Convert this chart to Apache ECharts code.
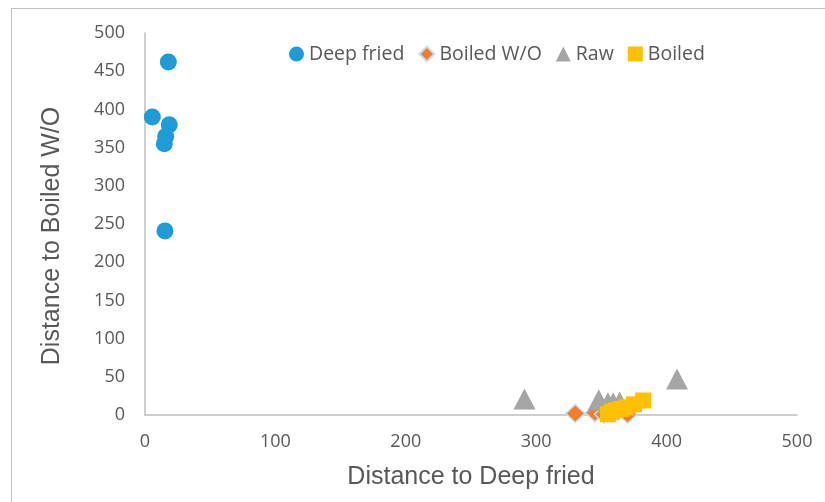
<!DOCTYPE html>
<html><head><meta charset="utf-8">
<script src="https://cdn.jsdelivr.net/npm/echarts@6/dist/echarts.min.js"></script>
<style>html,body{margin:0;padding:0;background:#fff}#c{width:825px;height:502px}</style>
</head><body><div id="c"></div>
<script>
var deepFried = [[17.9,462],[5.6,390],[18.6,380],[15.9,365],[14.8,355],[15.3,241]];
var boiledWO = [[330,2],[345,3],[352,1],[370,1],[358,2]];
var raw = [[291,21],[348,20],[355,16],[359,16],[364,17],[408,47]];
var boiled = [[355,1],[358,4],[361,6],[365,8],[369,10],[375,14],[382,19]];
var seriesNames = ['Deep fried','Boiled W/O','Raw','Boiled'];
var xTicks = {min:0,max:500,interval:100};
var yTicks = {min:0,max:500,interval:50};

var chart = echarts.init(document.getElementById('c'));
var font = 'Open Sans';
var titleFont = 'Liberation Sans';
chart.setOption({
  animation:false,
  graphic:[{type:'rect',shape:{x:11.5,y:8.5,width:830,height:510},style:{fill:'none',stroke:'#bfbfbf',lineWidth:1}}],
  legend:{top:39,left:284,itemGap:14,itemWidth:15,itemHeight:15,
    textStyle:{fontFamily:font,fontSize:19.5,color:'#595959'},
    data:seriesNames},
  grid:{left:145,right:28,top:33,bottom:87},
  xAxis:{type:'value',min:xTicks.min,max:xTicks.max,interval:xTicks.interval,
    name:'Distance to Deep fried',nameLocation:'middle',nameGap:50,
    nameTextStyle:{fontFamily:titleFont,fontSize:25,color:'#595959'},
    axisLine:{show:true,lineStyle:{color:'#bfbfbf',width:1.5}},axisTick:{show:false},
    splitLine:{show:false},
    axisLabel:{fontFamily:font,fontSize:18,color:'#595959',margin:18}},
  yAxis:{type:'value',min:yTicks.min,max:yTicks.max,interval:yTicks.interval,
    name:'Distance to Boiled W/O',nameLocation:'middle',nameGap:80,
    nameTextStyle:{fontFamily:titleFont,fontSize:25,color:'#595959',padding:[0,24,0,0]},
    axisLine:{show:true,lineStyle:{color:'#bfbfbf',width:1.5}},axisTick:{show:false},
    splitLine:{show:false},
    axisLabel:{fontFamily:font,fontSize:18,color:'#595959',margin:20}},
  series:[
    {name:seriesNames[0],type:'scatter',data:deepFried,symbol:'circle',symbolSize:17,itemStyle:{color:'#1f9bd7',opacity:1}},
    {name:seriesNames[1],type:'scatter',data:boiledWO,symbol:'diamond',symbolSize:[19,18],itemStyle:{color:'#f47d2a',borderColor:'#c5e0f3',borderWidth:1.5,opacity:1}},
    {name:seriesNames[2],type:'scatter',data:raw,symbol:'triangle',symbolSize:[22,21],itemStyle:{color:'#a5a5a5',opacity:1}},
    {name:seriesNames[3],type:'scatter',data:boiled,symbol:'rect',symbolSize:16,itemStyle:{color:'#ffc000',opacity:1}}
  ]
});
</script></body></html>
